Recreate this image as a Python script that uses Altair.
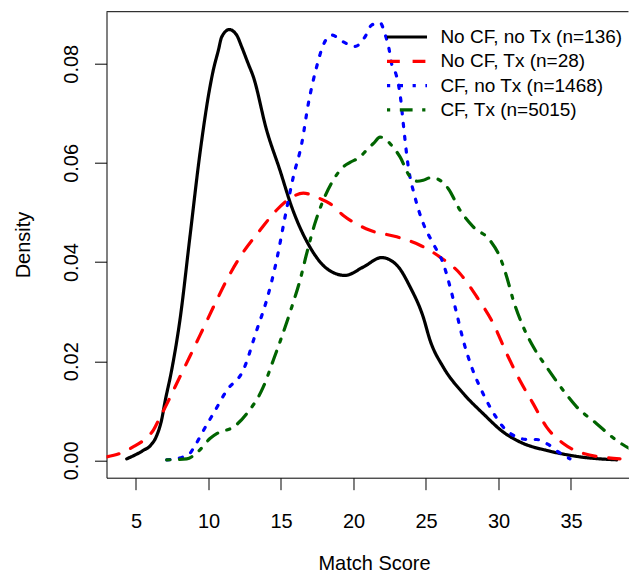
import altair as alt
import pandas as pd

series_names = ["No CF, no Tx (n=136)", "No CF, Tx (n=28)", "CF, no Tx (n=1468)", "CF, Tx (n=5015)"]
series_colors = ["#000000", "#FF0000", "#0000FF", "#006400"]
series_dashes = [[1, 0], [12.8, 12.8], [3.2, 9.6], [3.2, 9.6, 12.8, 9.6]]

x_ticks = [5, 10, 15, 20, 25, 30, 35]
y_ticks = [0.0, 0.02, 0.04, 0.06, 0.08]

black_x = [4.36, 5.50, 6.00, 6.43, 6.77, 7.00, 7.46, 8.03, 8.72, 9.41, 10.10, 10.33, 10.68, 10.91,
           11.43, 11.94, 12.29, 12.74, 13.09, 14.01, 14.93, 15.74, 17.00, 18.15, 19.41, 20.68,
           21.94, 22.98, 23.90, 24.81, 25.28, 26.19, 27.57, 28.95, 30.33, 31.71, 33.32, 35.62, 38.15]
black_y = [0.0003, 0.0020, 0.0030, 0.0050, 0.0082, 0.0118, 0.0182, 0.0283, 0.0451, 0.0619, 0.0753,
           0.0787, 0.0827, 0.0854, 0.0869, 0.0858, 0.0834, 0.0800, 0.0774, 0.0666, 0.0585, 0.0511,
           0.0430, 0.0387, 0.0373, 0.0390, 0.0409, 0.0394, 0.0350, 0.0289, 0.0242, 0.0188, 0.0135,
           0.0094, 0.0057, 0.0034, 0.0020, 0.0007, 0.0001]

red_x = [2.97, 3.90, 4.80, 5.50, 6.20, 6.66, 7.20, 7.69, 8.72, 9.41, 10.45, 11.37, 12.40, 13.55,
         14.70, 15.60, 16.54, 17.69, 18.38, 19.30, 21.14, 22.98, 24.59, 25.97, 27.34, 28.50,
         29.64, 30.57, 31.48, 32.40, 33.32, 34.47, 35.85, 38.38]
red_y = [0.0007, 0.0014, 0.0027, 0.0040, 0.0061, 0.0087, 0.0118, 0.0148, 0.0210, 0.0252, 0.0316,
         0.0370, 0.0420, 0.0464, 0.0505, 0.0528, 0.0539, 0.0528, 0.0518, 0.0494, 0.0464, 0.0451,
         0.0434, 0.0410, 0.0377, 0.0330, 0.0276, 0.0215, 0.0161, 0.0114, 0.0067, 0.0034, 0.0014,
         0.0003]

blue_x = [7.12, 8.26, 8.72, 8.95, 9.88, 10.33, 11.26, 12.40, 13.32, 14.01, 14.70, 15.28, 15.85,
          16.43, 16.89, 17.46, 17.92, 18.50, 19.30, 20.10, 20.79, 21.25, 21.83, 22.17, 22.45,
          22.63, 22.86, 23.09, 23.25, 23.43, 23.78, 24.24, 24.81, 25.50, 26.19, 26.66, 27.12,
          27.57, 28.15, 28.72, 29.41, 30.33, 31.26, 32.00, 32.63, 33.43, 34.12, 34.93]
blue_y = [0.0001, 0.0007, 0.0014, 0.0024, 0.0072, 0.0094, 0.0141, 0.0182, 0.0262, 0.0323, 0.0404,
          0.0491, 0.0572, 0.0639, 0.0720, 0.0794, 0.0838, 0.0858, 0.0844, 0.0835, 0.0854, 0.0878,
          0.0883, 0.0860, 0.0830, 0.0800, 0.0785, 0.0760, 0.0730, 0.0680, 0.0592, 0.0531, 0.0478,
          0.0437, 0.0397, 0.0350, 0.0296, 0.0242, 0.0188, 0.0148, 0.0108, 0.0067, 0.0047, 0.0042,
          0.0042, 0.0032, 0.0017, 0.0003]

green_x = [7.12, 8.50, 9.30, 10.10, 10.57, 10.79, 11.71, 12.63, 13.78, 14.47, 15.05, 15.74, 16.31,
           16.77, 17.34, 17.92, 18.50, 19.30, 19.76, 20.45, 20.91, 21.40, 21.83, 22.10, 22.52,
           23.21, 23.90, 24.40, 24.81, 25.30, 25.74, 26.54, 27.34, 28.26, 29.41, 30.10, 30.57,
           31.02, 31.71, 32.40, 33.32, 34.47, 35.39, 36.77, 38.15, 39.30, 40.50]
green_y = [0.0001, 0.0003, 0.0018, 0.0044, 0.0054, 0.0057, 0.0067, 0.0094, 0.0148, 0.0202, 0.0249,
           0.0309, 0.0363, 0.0417, 0.0478, 0.0525, 0.0560, 0.0592, 0.0601, 0.0612, 0.0626, 0.0640,
           0.0652, 0.0650, 0.0639, 0.0612, 0.0572, 0.0563, 0.0565, 0.0570, 0.0568, 0.0548, 0.0505,
           0.0471, 0.0444, 0.0410, 0.0370, 0.0323, 0.0269, 0.0229, 0.0188, 0.0141, 0.0108, 0.0074,
           0.0040, 0.0020, 0.0008]

rows = []
for name, xs, ys in zip(series_names,
                        [black_x, red_x, blue_x, green_x],
                        [black_y, red_y, blue_y, green_y]):
    for i, (xv, yv) in enumerate(zip(xs, ys)):
        rows.append({"series": name, "score": xv, "density": yv, "idx": i})
df = pd.DataFrame(rows)

W, H = 522, 466
FONT = "Liberation Sans"

legend = alt.Legend(
    title=None, orient="none", legendX=288.5, legendY=13.3,
    symbolType="M-2,0H2", symbolSize=400, symbolStrokeWidth=3.2,
    labelFontSize=19, labelFont=FONT, labelColor="black", labelLimit=0,
    labelOffset=21.4, rowPadding=2.3, padding=0,
)

lines = alt.Chart(df).mark_line(
    strokeWidth=3.2, strokeCap="round", strokeJoin="round", clip=True, interpolate="monotone"
).encode(
    x=alt.X("score:Q",
            scale=alt.Scale(domain=[2.966, 38.966], nice=False, zero=False),
            axis=alt.Axis(values=x_ticks, title="Match Score", grid=False, tickSize=12,
                          labelFontSize=20, labelFont=FONT, labelColor="black",
                          labelPadding=37.7, labelBaseline="alphabetic",
                          titleFontSize=20, titleFont=FONT, titleFontWeight="normal",
                          titleColor="black", titleX=267.5, titleY=92,
                          titleBaseline="alphabetic", titleAlign="center",
                          domainColor="black", tickColor="black", labelFlush=False)),
    y=alt.Y("density:Q",
            scale=alt.Scale(domain=[-0.0035, 0.0905], nice=False, zero=False),
            axis=alt.Axis(values=y_ticks, format=".2f", title="Density", grid=False, tickSize=12,
                          labelFontSize=20, labelFont=FONT, labelColor="black",
                          labelAngle=270, labelAlign="center", labelBaseline="alphabetic",
                          labelPadding=17.5,
                          titleFontSize=20, titleFont=FONT, titleFontWeight="normal",
                          titleColor="black", titleAngle=270, titleX=-77.5, titleY=232.8,
                          titleBaseline="alphabetic", titleAlign="center",
                          domainColor="black", tickColor="black", labelFlush=False)),
    color=alt.Color("series:N", scale=alt.Scale(domain=series_names, range=series_colors),
                    legend=legend),
    strokeDash=alt.StrokeDash("series:N", scale=alt.Scale(domain=series_names, range=series_dashes),
                              legend=legend),
    order="idx:Q",
)

top_line = alt.Chart(pd.DataFrame({"a": [0]})).mark_rule(color="black", strokeWidth=1).encode(
    x=alt.value(0), x2=alt.value(W), y=alt.value(0)
)

chart = alt.layer(lines, top_line).properties(
    width=W, height=H,
    autosize=alt.AutoSizeParams(type="none"),
    padding={"left": 98.5, "top": 3.7, "right": 0, "bottom": 96},
).configure_view(stroke=None)

chart.save("out.html", embed_options={"renderer": "svg", "actions": False})
